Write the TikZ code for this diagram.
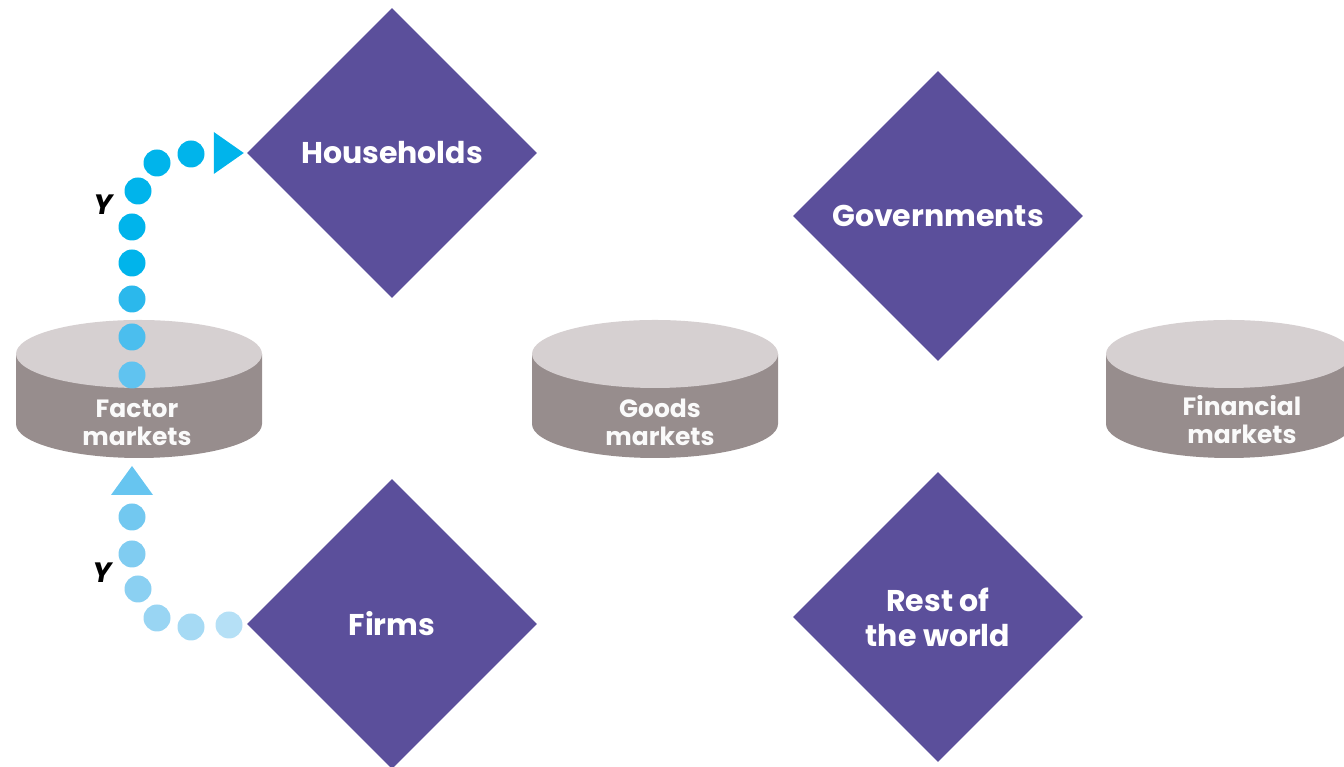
\documentclass[tikz,border=0pt]{standalone}
\usepackage{fontspec}
\setmainfont{Poppins}
\usetikzlibrary{shapes.geometric,calc}
\definecolor{purp}{RGB}{91,79,155}
\definecolor{cyltop}{RGB}{214,208,209}
\definecolor{cylside}{RGB}{151,141,141}
\definecolor{dA}{RGB}{0,180,235}
\definecolor{dB}{RGB}{43,184,236}
\definecolor{dC}{RGB}{75,190,238}
\definecolor{dD}{RGB}{96,195,240}
\definecolor{dE}{RGB}{103,197,240}
\definecolor{dF}{RGB}{114,200,240}
\definecolor{dG}{RGB}{128,204,241}
\definecolor{dH}{RGB}{139,208,242}
\definecolor{dI}{RGB}{153,213,243}
\definecolor{dJ}{RGB}{166,218,244}
\definecolor{dK}{RGB}{181,224,246}
\tikzset{
  sector/.style={diamond, fill=purp, draw=none, minimum width=290pt, minimum height=290pt,
    inner sep=0pt, aspect=1, text=white, font=\bfseries\fontsize{30}{35}\selectfont, align=center},
  mkt/.style={text=white!96!gray, font=\bfseries\fontsize{25}{28}\selectfont, align=center, inner sep=0pt},
  ylab/.style={font=\bfseries\itshape\fontsize{28}{30}\selectfont, inner sep=0pt},
  dot/.style={circle, inner sep=0pt, minimum size=27pt, draw=none}
}
\newcommand{\mycyl}[1]{%
  \fill[cylside] (#1-123,413) -- (#1-123,343) arc[start angle=180,end angle=360,x radius=123pt,y radius=34pt] -- (#1+123,413) -- cycle;
  \fill[cyltop] (#1,413) ellipse[x radius=123pt,y radius=34pt];
}
\begin{document}
\begin{tikzpicture}[x=1pt,y=1pt]
\useasboundingbox (0,0) rectangle (1344,767);
\begin{scope}
\clip (0,0) rectangle (1344,767);
% cylinders
\mycyl{139}
\mycyl{655}
\mycyl{1229}
\node[mkt] (factor) at (137,344) {Factor\\markets};
\node[mkt] (goods) at (660,345) {Goods\\markets};
\node[mkt] (financial) at (1242,347) {Financial\\markets};
% diamonds
\node[sector] (hh) at (392,614) {Households};
\node[sector] (gov) at (938,551) {Governments};
\node[sector] (firms) at (392,143) {Firms};
\node[sector] (row) at (938,150) {Rest of\\the world};
% upper flow: factor markets -> households
\foreach \p/\c in {{(132,392)}/dD,{(132,430)}/dC,{(132,468)}/dB,{(132,504)}/dA,{(132,540)}/dA,{(138,576)}/dA,{(157,604)}/dA,{(191,613)}/dA}
  \node[dot, fill=\c] at \p {};
\coordinate (hhtip) at ($(hh.west)+(-3,0)$);
\fill[dA] (hhtip) -- ++(-30,21) -- ++(0,-42) -- cycle;
\node[ylab] (y1) at (103,562) {Y};
% lower flow: firms -> factor markets
\foreach \p/\c in {{(229,142)}/dK,{(191,140)}/dJ,{(157,149)}/dI,{(138,178)}/dH,{(132,213)}/dG,{(132,250)}/dF}
  \node[dot, fill=\c] at \p {};
\coordinate (fmtip) at (132,301);
\fill[dE] (fmtip) -- ++(-21,-29) -- ++(42,0) -- cycle;
\node[ylab] (y2) at (102,194) {Y};
\end{scope}
\end{tikzpicture}
\end{document}
